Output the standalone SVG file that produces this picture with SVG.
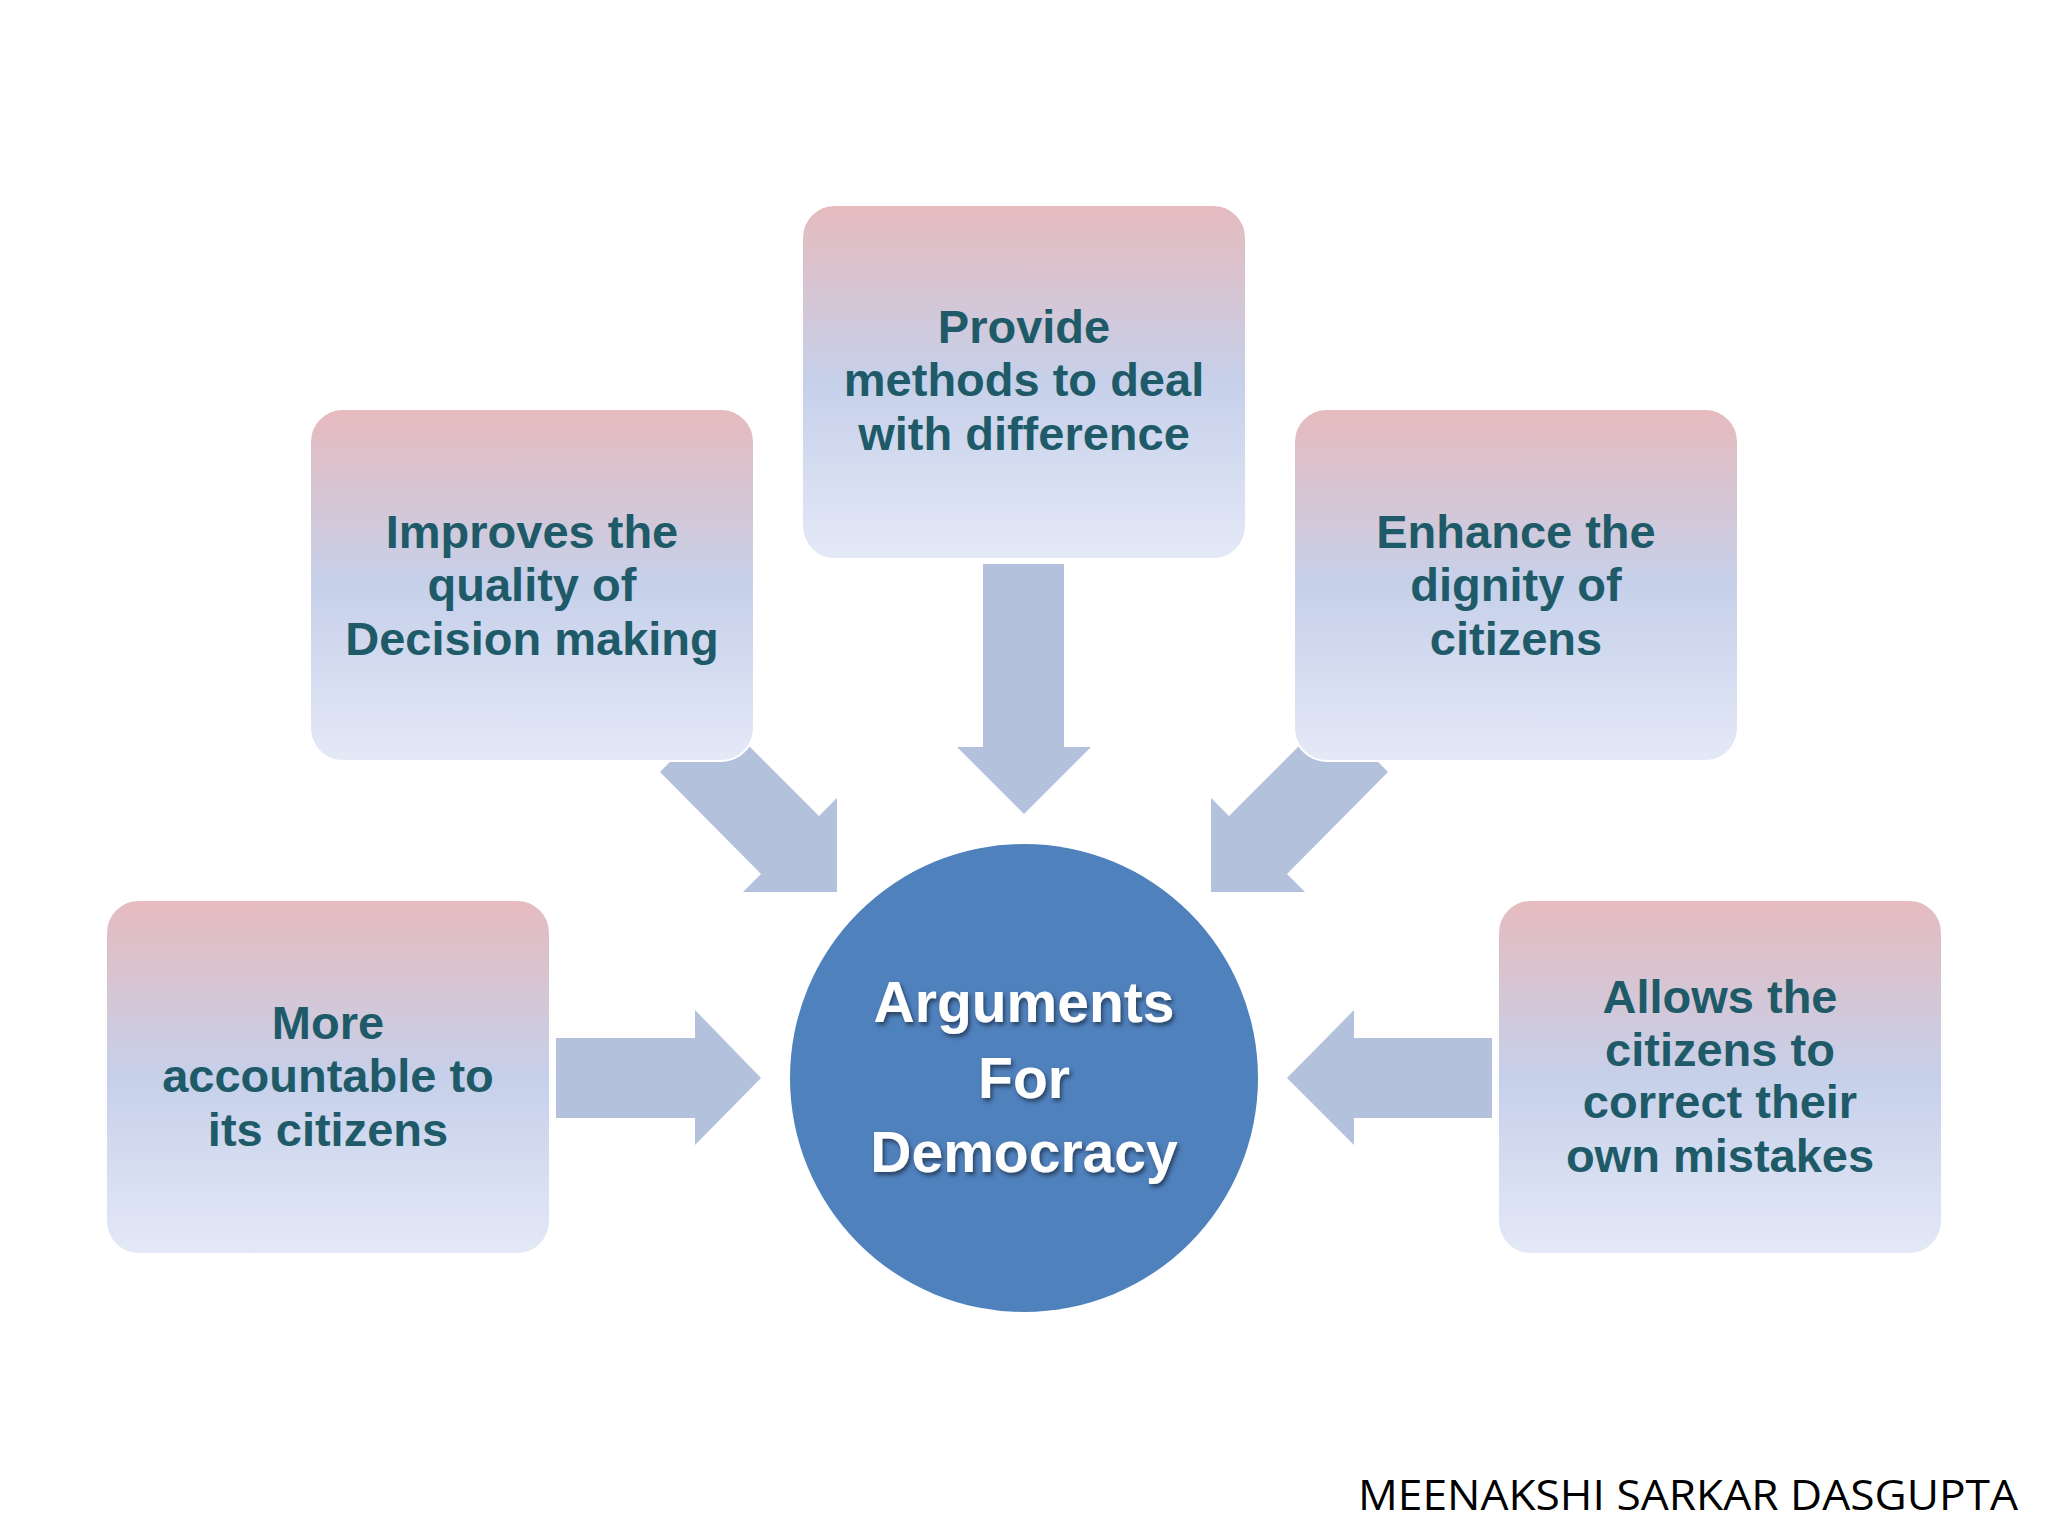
<svg xmlns="http://www.w3.org/2000/svg" width="2048" height="1536" viewBox="0 0 2048 1536">
<defs>
<linearGradient id="g" x1="0" y1="0" x2="0" y2="1">
<stop offset="0" stop-color="#e6bbbe"/>
<stop offset="0.5" stop-color="#c6d0ea"/>
<stop offset="1" stop-color="#e4e9f7"/>
</linearGradient>
<filter id="sh" x="-10%" y="-10%" width="120%" height="120%"><feDropShadow dx="2" dy="3" stdDeviation="2" flood-color="#000" flood-opacity="0.5"/></filter>
</defs>
<style>
.box{fill:url(#g);stroke:#ffffff;stroke-width:2}
.t{font-family:"Liberation Sans",Arial,sans-serif;font-weight:bold;font-size:47px;fill:#1f5a68;text-anchor:middle}
.c{font-family:"Liberation Sans",Arial,sans-serif;font-weight:bold;font-size:57px;fill:#ffffff;text-anchor:middle;filter:url(#sh)}
.a{fill:#b3c1dc}
</style>
<rect width="2048" height="1536" fill="#ffffff"/>
<g id="connectors">
<polygon class="a" points="983,564 1064,564 1064,747 1091,747 1024,814 957,747 983,747"/>
<polygon class="a" points="556,1038 695,1038 695,1010 761,1078 695,1145 695,1118 556,1118"/>
<polygon class="a" points="1492,1038 1354,1038 1354,1010 1287,1078 1354,1145 1354,1118 1492,1118"/>
<polygon class="a" points="717,714 819,816 837,798 837,892 743,892 761,874 660,772"/>
<polygon class="a" points="1331,714 1229,816 1211,798 1211,892 1305,892 1287,874 1388,772"/>
</g>
<g id="top"><rect class="box" x="802" y="205" width="444" height="354" rx="33"/>
<text class="t"><tspan x="1024" y="343">Provide</tspan><tspan x="1024" y="396">methods to deal</tspan><tspan x="1024" y="450">with difference</tspan></text></g>
<g id="leftmid"><rect class="box" x="310" y="409" width="444" height="352" rx="33"/>
<text class="t"><tspan x="532" y="548">Improves the</tspan><tspan x="532" y="601">quality of</tspan><tspan x="532" y="655">Decision making</tspan></text></g>
<g id="rightmid"><rect class="box" x="1294" y="409" width="444" height="352" rx="33"/>
<text class="t"><tspan x="1516" y="548">Enhance the</tspan><tspan x="1516" y="601">dignity of</tspan><tspan x="1516" y="655">citizens</tspan></text></g>
<g id="leftbottom"><rect class="box" x="106" y="900" width="444" height="354" rx="33"/>
<text class="t"><tspan x="328" y="1039">More</tspan><tspan x="328" y="1092">accountable to</tspan><tspan x="328" y="1146">its citizens</tspan></text></g>
<g id="rightbottom"><rect class="box" x="1498" y="900" width="444" height="354" rx="33"/>
<text class="t"><tspan x="1720" y="1013">Allows the</tspan><tspan x="1720" y="1066">citizens to</tspan><tspan x="1720" y="1118">correct their</tspan><tspan x="1720" y="1172">own mistakes</tspan></text></g>
<g id="center"><circle cx="1024" cy="1078" r="234" fill="#4f81bd"/>
<text class="c"><tspan x="1024" y="1022">Arguments</tspan><tspan x="1024" y="1098">For</tspan><tspan x="1024" y="1172">Democracy</tspan></text></g>
<text x="2018" y="1510" font-family="'Open Sans',sans-serif" font-size="42" fill="#000" text-anchor="end" textLength="660" lengthAdjust="spacingAndGlyphs">MEENAKSHI SARKAR DASGUPTA</text>
</svg>
